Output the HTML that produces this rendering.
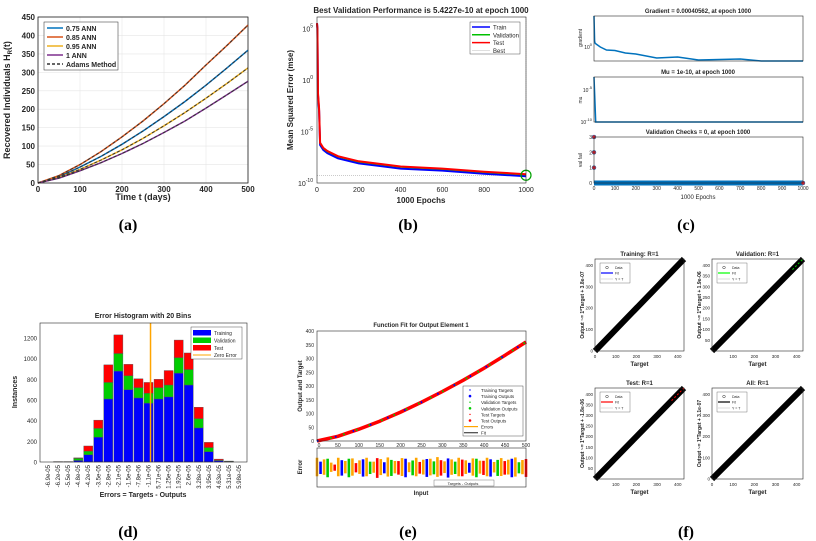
<!DOCTYPE html>
<html><head><meta charset="utf-8">
<style>
html,body{margin:0;padding:0;background:#fff;}
svg{display:block;font-family:"Liberation Sans",sans-serif;}
</style></head>
<body>
<svg id="fig" width="816" height="541" viewBox="0 0 816 541" xmlns="http://www.w3.org/2000/svg"></svg>
<script>
// ---------- data ----------
const aTimes=[0,50,100,150,200,250,300,350,400,450,500];
const a075=[0,17,43,72,105,141,180,221,265,312,360];
const a085=[0,20,50,85,125,168,215,265,320,373,428];
const a095=[0,15,37,62,90,121,155,191,230,270,312];
const a100=[0,13,33,55,80,107,137,168,203,239,276];
const aYTicks=[0,50,100,150,200,250,300,350,400,450];
const aXTicks=[0,100,200,300,400,500];

const bEpochs=[0,2,5,10,15,30,50,100,200,400,600,800,1000];
const bTrain=[5.5,5,-1.5,-3,-6.3,-6.8,-7.1,-7.6,-8.1,-8.6,-8.8,-9.1,-9.35];
const bTest=[5.5,5,-1.3,-2.8,-6.1,-6.6,-6.9,-7.4,-7.9,-8.4,-8.6,-8.9,-9.15];
const bBest=-9.25;
const bXTicks=[0,200,400,600,800,1000];

const cGradEp=[0,3,5,10,30,60,100,150,200,300,400,500,700,800,1000];
const cGrad=[3.1,0.6,0.4,0.3,0,-0.3,-0.35,-0.6,-0.7,-1.1,-1.0,-1.3,-1.2,-1.4,-1.4];
const cMuEp=[0,8,1000];
const cMu=[-3,-10,-10];
const cValEp=[0,0,0,1000];
const cVal=[3,2,1,0];
const cXTicks=[0,100,200,300,400,500,600,700,800,900,1000];

const dLabels=["-6.9e-05","-6.2e-05","-5.5e-05","-4.8e-05","-4.2e-05","-3.5e-05","-2.8e-05","-2.1e-05","-1.5e-05","-7.8e-06","-1.1e-06","5.71e-06","1.25e-05","1.92e-05","2.6e-05","3.28e-05","3.95e-05","4.63e-05","5.31e-05","5.98e-05"];
const dTrain=[0,2,2,15,70,240,610,880,700,620,570,610,630,860,745,330,100,12,4,0];
const dVal=[0,1,1,20,35,85,160,170,135,100,95,110,115,150,150,90,40,6,2,0];
const dTest=[0,1,1,5,50,80,170,180,110,85,105,80,140,170,160,110,50,10,3,0];
const dYTicks=[0,200,400,600,800,1000,1200];

const eInputs=[0,50,100,150,200,250,300,350,400,450,500];
const eOut=a075;
const eErr=[3,-2,2.5,-3,1.5,-1,3,-2.5,2,-3,2.8,-1.5,2.2,-2.8,3,-2,1.8,-3.2,2.6,-1.8,3.1,-2.6,2,-2.2,2.9,-3,1.6,-2.4,3,-1.9,2.4,-2.9,2.7,-2.1,3.2,-2.5,1.9,-3.1,2.5,-2,3,-2.7,2.2,-1.6,2.8,-3,2.1,-2.3,3,-2.8,1.7,-2.6,2.9,-2.2,2.4,-3,3.1,-1.8,2.3,-2.9];
const eYTicks=[0,50,100,150,200,250,300,350,400];

const fTitles=["Training: R=1","Validation: R=1","Test: R=1","All: R=1"];
const fYLabels=["Output ~= 1*Target + 3.8e-07","Output ~= 1*Target + 1.9e-06","Output ~= 1*Target + -1.8e-06","Output ~= 1*Target + 3.1e-07"];
const fFitColors=["#0000ff","#00ff00","#ff0000","#000000"];
const fTarget=[0,430];

// ---------- helpers ----------
const S=document.getElementById('fig');const NS='http://www.w3.org/2000/svg';
function mk(t,at,p){const e=document.createElementNS(NS,t);for(const k in at)e.setAttribute(k,at[k]);(p||S).appendChild(e);return e;}
function nm(e,n,i){
return e;}
function tx(x,y,s,o,p,n){o=o||{};const e=mk('text',Object.assign({x:x,y:y,'font-size':o.fs||8,fill:o.c||'#262626','text-anchor':o.a||'middle','font-weight':o.b?'bold':'normal'},o.tr?{transform:o.tr}:{}),p);if(o.ff)e.setAttribute('font-family',o.ff);e.textContent=s;nm(e,n||'label');return e;}
function scale(d0,d1,r0,r1){return v=>r0+(v-d0)/(d1-d0)*(r1-r0);}
function path(xs,ys,X,Y,at,n,p){let d='';for(let i=0;i<xs.length;i++)d+=(i?'L':'M')+X(xs[i]).toFixed(1)+' '+Y(ys[i]).toFixed(1);const e=mk('path',Object.assign({d:d,fill:'none'},at),p);nm(e,n);return e;}
function box(x0,y0,x1,y1,n){const e=mk('rect',{x:x0,y:y0,width:x1-x0,height:y1-y0,fill:'none',stroke:'#262626','stroke-width':0.6});nm(e,n);return e;}
function grp(n){const g=mk('g',{});nm(g,n);return g;}

// ---------- (a) ----------
{const g=grp('panel-a');const X=scale(0,500,38,248),Y=scale(0,450,183,17);
box(38,17,248,183,'plot-area-a');
aXTicks.forEach(v=>{mk('line',{x1:X(v),x2:X(v),y1:17,y2:183,stroke:'#e6e6e6','stroke-width':0.6},g);tx(X(v),192,v,{fs:8,b:1},g,'x-tick');});
aYTicks.forEach(v=>{mk('line',{x1:38,x2:248,y1:Y(v),y2:Y(v),stroke:'#e6e6e6','stroke-width':0.6},g);tx(35,Y(v)+3,v,{fs:8,b:1,a:'end'},g,'y-tick');});
mk('rect',{x:38,y:17,width:210,height:166,fill:'none',stroke:'#262626','stroke-width':0.6},g);
const ser=[[a075,'#0072bd','line-075'],[a085,'#d95319','line-085'],[a095,'#edb120','line-095'],[a100,'#7e2f8e','line-1']];
ser.forEach(s=>path(aTimes,s[0],X,Y,{stroke:s[1],'stroke-width':1.5},s[2],g));
ser.forEach(s=>path(aTimes,s[0],X,Y,{stroke:'#333','stroke-width':1,'stroke-dasharray':'3,2'},'adams-line',g));
tx(10,100,'Recovered Individuals H',{fs:9,b:1,tr:'rotate(-90 10 100)'},g,'y-axis-title');
tx(143,200,'Time t (days)',{fs:9,b:1},g,'x-axis-title');
const lg=mk('g',{},g);nm(lg,'legend-a');
mk('rect',{x:44,y:22,width:74,height:48,fill:'#fff',stroke:'#262626','stroke-width':0.5},lg);
[['0.75 ANN','#0072bd',''],['0.85 ANN','#d95319',''],['0.95 ANN','#edb120',''],['1 ANN','#7e2f8e',''],['Adams Method','#333','3,2']].forEach((l,i)=>{const y=28+i*9;mk('line',{x1:47,x2:63,y1:y,y2:y,stroke:l[1],'stroke-width':1.5,'stroke-dasharray':l[2]},lg);tx(66,y+3,l[0],{fs:7,b:1,a:'start'},lg,'legend-entry');});
tx(128,230,'(a)',{fs:16,b:1,ff:'Liberation Serif',c:'#000'},g,'panel-label-a');}

// ---------- (b) ----------
{const g=grp('panel-b');const X=scale(0,1000,317,526),Y=scale(-10,6.1,183,17);
box(317,17,526,183,'plot-area-b');
bXTicks.forEach(v=>tx(X(v),192,v,{fs:7},g,'x-tick'));
[-10,-5,0,5].forEach(v=>{const t=tx(313,Y(v)+3,'10',{fs:7,a:'end'},g,'y-tick');const s=mk('tspan',{dy:-4,'font-size':5},t);s.textContent=v;});
mk('line',{x1:317,x2:526,y1:Y(bBest),y2:Y(bBest),stroke:'#aaa','stroke-width':0.6,'stroke-dasharray':'1,1'},g);
mk('line',{x1:X(1000),x2:X(1000),y1:17,y2:183,stroke:'#ccc','stroke-width':0.5,'stroke-dasharray':'1,1'},g);
path(bEpochs,bTrain,X,Y,{stroke:'#0000ff','stroke-width':2},'train-line',g);
path(bEpochs,bTest.map(v=>v-0.05),X,Y,{stroke:'#00c000','stroke-width':1.5},'validation-line',g);
path(bEpochs,bTest,X,Y,{stroke:'#ff0000','stroke-width':2},'test-line',g);
nm(mk('circle',{cx:X(1000),cy:Y(bBest),r:5,fill:'none',stroke:'#00a000','stroke-width':1.2},g),'best-marker');
tx(421,13,'Best Validation Performance is 5.4227e-10 at epoch 1000',{fs:8,b:1},g,'chart-title-b');
tx(421,203,'1000 Epochs',{fs:8,b:1},g,'x-axis-title');
tx(293,100,'Mean Squared Error  (mse)',{fs:8,b:1,tr:'rotate(-90 293 100)'},g,'y-axis-title');
const lg=mk('g',{},g);nm(lg,'legend-b');
mk('rect',{x:470,y:22,width:50,height:32,fill:'#fff',stroke:'#262626','stroke-width':0.4},lg);
[['Train','#0000ff'],['Validation','#00c000'],['Test','#ff0000'],['Best','#ccc']].forEach((l,i)=>{const y=27+i*7.8;mk('line',{x1:472,x2:490,y1:y,y2:y,stroke:l[1],'stroke-width':i<3?1.5:0.6},lg);tx(493,y+2.5,l[0],{fs:6,a:'start'},lg,'legend-entry');});
tx(408,230,'(b)',{fs:16,b:1,ff:'Liberation Serif',c:'#000'},g,'panel-label-b');}

// ---------- (c) ----------
{const g=grp('panel-c');const X=scale(0,1000,594,803);
const Yg=scale(-1.4,3.1,61,16),Ym=scale(-10,-3,122,77),Yv=scale(0,3,183,137);
box(594,16,803,61,'gradient-plot');box(594,77,803,122,'mu-plot');box(594,137,803,183,'val-checks-plot');
path(cGradEp,cGrad,X,Yg,{stroke:'#0072bd','stroke-width':1.5},'gradient-line',g);
path(cMuEp,cMu,X,Ym,{stroke:'#0072bd','stroke-width':1.5},'mu-line',g);
nm(mk('rect',{x:594,y:Yv(0)-2.5,width:209,height:5,fill:'#0072bd'},g),'val-checks-line');
cValEp.forEach((e,i)=>nm(mk('circle',{cx:X(e),cy:Yv(cVal[i]),r:2,fill:'#e0202a',stroke:'#0072bd','stroke-width':0.5},g),'val-check-point'));
cXTicks.forEach(v=>tx(X(v),190,v,{fs:5},g,'x-tick'));
[0,1,2,3].forEach(v=>tx(592,Yv(v)+2,v,{fs:5,a:'end'},g,'y-tick'));
{const t=tx(592,Yg(0)+2,'10',{fs:5,a:'end'},g,'y-tick');const s=mk('tspan',{dy:-3,'font-size':4},t);s.textContent='0';}
{const t=tx(592,Ym(-5)+2,'10',{fs:5,a:'end'},g,'y-tick');const s=mk('tspan',{dy:-3,'font-size':4},t);s.textContent='-5';}
{const t=tx(592,Ym(-10)+2,'10',{fs:5,a:'end'},g,'y-tick');const s=mk('tspan',{dy:-3,'font-size':4},t);s.textContent='-10';}
tx(698,13,'Gradient = 0.00040562, at epoch 1000',{fs:6,b:1},g,'gradient-title');
tx(698,74,'Mu = 1e-10, at epoch 1000',{fs:6,b:1},g,'mu-title');
tx(698,134,'Validation Checks = 0, at epoch 1000',{fs:6,b:1},g,'val-checks-title');
tx(698,199,'1000 Epochs',{fs:6},g,'x-axis-title');
tx(582,38,'gradient',{fs:5,tr:'rotate(-90 582 38)'},g,'y-axis-title');
tx(582,100,'mu',{fs:5,tr:'rotate(-90 582 100)'},g,'y-axis-title');
tx(582,160,'val fail',{fs:5,tr:'rotate(-90 582 160)'},g,'y-axis-title');
tx(686,230,'(c)',{fs:16,b:1,ff:'Liberation Serif',c:'#000'},g,'panel-label-c');}

// ---------- (d) ----------
{const g=grp('panel-d');const Y=scale(0,1345,462,323);const x0=40,x1=247,bw=(x1-x0)/20.6;
box(x0,323,x1,462,'plot-area-d');
const xc=i=>x0+bw*0.8+i*bw;
dLabels.forEach((l,i)=>{let b=0;[[dTrain,'#0000ff','bar-training'],[dVal,'#00cc00','bar-validation'],[dTest,'#ff0000','bar-test']].forEach(s=>{const v=s[0][i];if(v>0){nm(mk('rect',{x:xc(i)-bw*0.45,y:Y(b+v),width:bw*0.9,height:Y(b)-Y(b+v),fill:s[1],stroke:'#555','stroke-width':0.4},g),s[2]);}b+=v;});
tx(xc(i)+2,465,l,{fs:6,a:'end',tr:'rotate(-90 '+(xc(i)+2)+' 465)'},g,'x-tick');});
dYTicks.forEach(v=>tx(37,Y(v)+2.5,v,{fs:6,a:'end'},g,'y-tick'));
nm(mk('line',{x1:xc(10)+2,x2:xc(10)+2,y1:323,y2:462,stroke:'#ffa500','stroke-width':1.5},g),'zero-error-line');
tx(143,318,'Error Histogram with 20 Bins',{fs:7,b:1},g,'chart-title-d');
tx(143,497,'Errors = Targets - Outputs',{fs:7,b:1},g,'x-axis-title');
tx(17,392,'Instances',{fs:7,b:1,tr:'rotate(-90 17 392)'},g,'y-axis-title');
const lg=mk('g',{},g);nm(lg,'legend-d');
mk('rect',{x:191,y:327,width:51,height:32,fill:'#fff',stroke:'#262626','stroke-width':0.4},lg);
[['Training','#0000ff'],['Validation','#00cc00'],['Test','#ff0000']].forEach((l,i)=>{const y=330+i*7.5;mk('rect',{x:193,y:y,width:18,height:5.5,fill:l[1]},lg);tx(214,y+5,l[0],{fs:5,a:'start'},lg,'legend-entry');});
mk('line',{x1:193,x2:211,y1:355,y2:355,stroke:'#ffa500','stroke-width':1},lg);tx(214,357,'Zero Error',{fs:5,a:'start'},lg,'legend-entry');
tx(128,537,'(d)',{fs:16,b:1,ff:'Liberation Serif',c:'#000'},g,'panel-label-d');}

// ---------- (e) ----------
{const g=grp('panel-e');const X=scale(0,500,317,526),Y=scale(0,400,441,331);const Ye=scale(-6,6,487,448);
box(317,331,526,441,'plot-area-e');box(317,448,526,487,'error-plot');
eYTicks.forEach(v=>tx(314,Y(v)+2,v,{fs:5,a:'end'},g,'y-tick'));
eInputs.forEach(v=>{if(v>0)tx(X(v),447,v,{fs:5},g,'x-tick');});
tx(319,447,'0',{fs:5},g,'x-tick');
path(eInputs,eOut,X,Y,{stroke:'#444','stroke-width':1},'fit-line',g);
path(eInputs,eOut,X,Y,{stroke:'#ff0000','stroke-width':3.5},'test-outputs',g);
path(eInputs,eOut,X,Y,{stroke:'#00cc00','stroke-width':2,'stroke-dasharray':'1.5,12'},'validation-outputs',g);
path(eInputs,eOut,X,Y,{stroke:'#0000ff','stroke-width':2,'stroke-dasharray':'1.5,17'},'training-outputs',g);
const n=eErr.length;const cols=['#ffa500','#0000ff','#ffa500','#00cc00','#ffa500','#ff0000'];
eErr.forEach((v,i)=>{const xx=X(i*500/(n-1));
nm(mk('line',{x1:xx,x2:xx,y1:Ye(-v*0.9),y2:Ye(v),stroke:cols[i%6],'stroke-width':2.6},g),'error-stem');});
nm(mk('rect',{x:434,y:480,width:60,height:6,fill:'#fff',stroke:'#262626','stroke-width':0.3},g),'error-legend');
tx(463,485,'Targets - Outputs',{fs:4},g,'legend-entry');
tx(421,327,'Function Fit for Output Element 1',{fs:6,b:1},g,'chart-title-e');
tx(421,495,'Input',{fs:6,b:1},g,'x-axis-title');
tx(302,386,'Output and Target',{fs:6,b:1,tr:'rotate(-90 302 386)'},g,'y-axis-title');
tx(302,467,'Error',{fs:6,b:1,tr:'rotate(-90 302 467)'},g,'y-axis-title');
const lg=mk('g',{},g);nm(lg,'legend-e');
mk('rect',{x:463,y:386,width:60,height:50,fill:'#fff',stroke:'#262626','stroke-width':0.4},lg);
[['Training Targets','#0000ff'],['Training Outputs','#0000ff'],['Validation Targets','#00cc00'],['Validation Outputs','#00cc00'],['Test Targets','#ff0000'],['Test Outputs','#ff0000'],['Errors','#ffa500'],['Fit','#444']].forEach((l,i)=>{const y=390+i*6.1;if(i<6)mk('circle',{cx:470,cy:y,r:i%2?1.3:0.7,fill:l[1]},lg);else mk('line',{x1:464,x2:478,y1:y,y2:y,stroke:l[1],'stroke-width':1.2},lg);tx(481,y+2,l[0],{fs:4.5,a:'start'},lg,'legend-entry');});
tx(408,537,'(e)',{fs:16,b:1,ff:'Liberation Serif',c:'#000'},g,'panel-label-e');}

// ---------- (f) ----------
{const pos=[[595,684,259,351],[712,803,259,351],[595,684,388,479],[712,803,388,479]];
pos.forEach((p,k)=>{const g=grp('regression-plot-'+(k+1));const X=scale(0,430,p[0],p[1]),Y=scale(0,430,p[3],p[2]);
box(p[0],p[2],p[1],p[3],'regression-axes');
path(fTarget,fTarget,X,Y,{stroke:'#000','stroke-width':6},'data-points',g);
if(k===1)path([380,430],[380,430],X,Y,{stroke:'#00cc00','stroke-width':1,'stroke-dasharray':'2,2'},'fit-line',g);
if(k===2)path([370,430],[370,430],X,Y,{stroke:'#ff0000','stroke-width':1,'stroke-dasharray':'2,2'},'fit-line',g);
const xt=(k===0)?[0,100,200,300,400]:(k===3?[0,100,200,300,400]:[100,200,300,400]);
xt.forEach(v=>tx(X(v),p[3]+7,v,{fs:4.5},g,'x-tick'));
const yt=(k===0||k===3)?[0,100,200,300,400]:[50,100,150,200,250,300,350,400];
yt.forEach(v=>tx(p[0]-2,Y(v)+1.5,v,{fs:4.5,a:'end'},g,'y-tick'));
tx((p[0]+p[1])/2,p[2]-3,fTitles[k],{fs:6,b:1},g,'chart-title');
tx((p[0]+p[1])/2,p[3]+15,'Target',{fs:6,b:1},g,'x-axis-title');
const cx=p[0]-11,cy=(p[2]+p[3])/2;tx(cx,cy,fYLabels[k],{fs:5,b:1,tr:'rotate(-90 '+cx+' '+cy+')'},g,'y-axis-title');
const lg=mk('g',{},g);nm(lg,'legend-f');
mk('rect',{x:p[0]+5,y:p[2]+4,width:30,height:20,fill:'#fff',stroke:'#262626','stroke-width':0.3},lg);
mk('circle',{cx:p[0]+12,cy:p[2]+8.5,r:1.3,fill:'none',stroke:'#000','stroke-width':0.4},lg);tx(p[0]+20,p[2]+10,'Data',{fs:3.5,a:'start'},lg,'legend-entry');
mk('line',{x1:p[0]+6,x2:p[0]+18,y1:p[2]+14,y2:p[2]+14,stroke:fFitColors[k],'stroke-width':1.2},lg);tx(p[0]+20,p[2]+15.5,'Fit',{fs:3.5,a:'start'},lg,'legend-entry');
mk('line',{x1:p[0]+6,x2:p[0]+18,y1:p[2]+20,y2:p[2]+20,stroke:'#aaa','stroke-width':0.4},lg);tx(p[0]+20,p[2]+21.5,'Y = T',{fs:3.5,a:'start'},lg,'legend-entry');});
const g=grp('panel-f');tx(686,537,'(f)',{fs:16,b:1,ff:'Liberation Serif',c:'#000'},g,'panel-label-f');}
// subscript R for (a) label
{const t=[...S.querySelectorAll('text')].find(e=>e.textContent==='Recovered Individuals H');const s=mk('tspan',{'font-size':6,dy:2},t);s.textContent='R';const s2=mk('tspan',{dy:-2},t);s2.textContent='(t)';}
</script>
</body></html>
